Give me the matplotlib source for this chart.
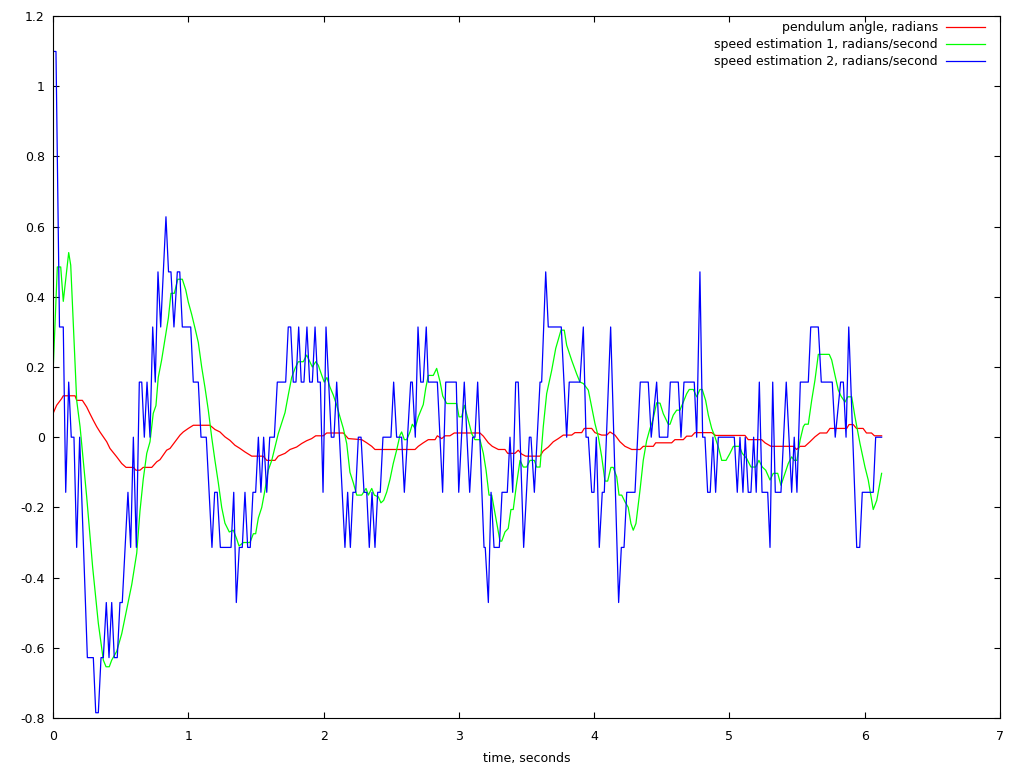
import matplotlib
matplotlib.use("Agg")
import matplotlib.pyplot as plt

# ---------------- data ----------------
angle_t = [0.000, 0.027, 0.064, 0.076, 0.163, 0.175, 0.217, 0.249, 0.273, 0.298, 0.323, 0.347,
           0.372, 0.397, 0.421, 0.471, 0.508, 0.540, 0.594, 0.613, 0.643, 0.667, 0.730, 0.767,
           0.791, 0.815, 0.840, 0.865, 0.902, 0.939, 0.963, 1.000, 1.037, 1.160, 1.197, 1.234,
           1.271, 1.308, 1.345, 1.382, 1.419, 1.469, 1.554, 1.580, 1.641, 1.665, 1.715, 1.752,
           1.801, 1.838, 1.875, 1.912, 1.942, 1.998, 2.023, 2.146, 2.183, 2.282, 2.319, 2.356,
           2.380, 2.676, 2.700, 2.737, 2.774, 2.824, 2.841, 2.873, 2.898, 2.934, 2.966, 3.156,
           3.181, 3.218, 3.247, 3.292, 3.341, 3.361, 3.415, 3.439, 3.464, 3.494, 3.600, 3.624,
           3.661, 3.698, 3.735, 3.772, 3.834, 3.858, 3.908, 3.927, 3.982, 4.006, 4.056, 4.093,
           4.117, 4.154, 4.191, 4.228, 4.278, 4.339, 4.363, 4.437, 4.455, 4.573, 4.597, 4.659,
           4.684, 4.721, 4.745, 4.869, 4.898, 5.115, 5.139, 5.238, 5.263, 5.307, 5.472, 5.497,
           5.522, 5.558, 5.595, 5.632, 5.669, 5.719, 5.743, 5.867, 5.884, 5.915, 5.939, 5.988,
           6.013, 6.050, 6.072, 6.125]
angle_v = [0.067, 0.091, 0.110, 0.118, 0.118, 0.105, 0.105, 0.086, 0.067, 0.048, 0.030, 0.015,
           0.001, -0.013, -0.032, -0.056, -0.075, -0.086, -0.086, -0.094, -0.094, -0.086, -0.086, -0.070,
           -0.064, -0.051, -0.037, -0.032, -0.013, 0.006, 0.015, 0.025, 0.034, 0.034, 0.022, 0.015,
           0.001, -0.009, -0.023, -0.032, -0.042, -0.054, -0.054, -0.066, -0.066, -0.054, -0.046, -0.035,
           -0.028, -0.018, -0.010, -0.004, 0.004, 0.004, 0.012, 0.012, -0.004, -0.007, -0.016, -0.026,
           -0.035, -0.035, -0.026, -0.016, -0.007, -0.007, 0.004, -0.004, 0.004, 0.004, 0.012, 0.012,
           0.003, -0.016, -0.026, -0.035, -0.035, -0.046, -0.046, -0.037, -0.048, -0.054, -0.054, -0.039,
           -0.028, -0.013, -0.004, 0.006, 0.006, 0.013, 0.013, 0.025, 0.025, 0.013, 0.006, 0.006,
           0.015, 0.006, -0.013, -0.026, -0.035, -0.035, -0.026, -0.026, -0.016, -0.016, -0.007, -0.007,
           0.003, 0.003, 0.013, 0.013, 0.005, 0.005, -0.007, -0.007, -0.016, -0.026, -0.026, -0.035,
           -0.026, -0.026, -0.013, 0.001, 0.012, 0.012, 0.025, 0.025, 0.036, 0.036, 0.025, 0.025,
           0.012, 0.012, 0.004, 0.004]

speed1_t = [0.000, 0.032, 0.057, 0.076, 0.116, 0.131, 0.175, 0.200, 0.249, 0.293, 0.335, 0.372,
            0.392, 0.416, 0.434, 0.471, 0.508, 0.545, 0.582, 0.619, 0.643, 0.667, 0.693, 0.717,
            0.741, 0.761, 0.778, 0.803, 0.828, 0.853, 0.872, 0.897, 0.922, 0.956, 0.981, 1.000,
            1.025, 1.050, 1.074, 1.099, 1.124, 1.148, 1.173, 1.197, 1.222, 1.247, 1.271, 1.303,
            1.333, 1.358, 1.375, 1.407, 1.456, 1.481, 1.498, 1.518, 1.543, 1.567, 1.591, 1.617,
            1.641, 1.665, 1.690, 1.715, 1.739, 1.764, 1.789, 1.813, 1.850, 1.875, 1.892, 1.917,
            1.942, 1.961, 1.986, 2.005, 2.025, 2.047, 2.072, 2.097, 2.121, 2.146, 2.171, 2.195,
            2.220, 2.245, 2.282, 2.314, 2.331, 2.356, 2.375, 2.405, 2.424, 2.444, 2.467, 2.491,
            2.515, 2.540, 2.565, 2.577, 2.597, 2.614, 2.639, 2.656, 2.676, 2.700, 2.737, 2.755,
            2.774, 2.811, 2.836, 2.861, 2.881, 2.910, 2.984, 3.001, 3.021, 3.040, 3.070, 3.095,
            3.119, 3.156, 3.181, 3.201, 3.223, 3.243, 3.267, 3.304, 3.317, 3.341, 3.365, 3.385,
            3.402, 3.427, 3.452, 3.476, 3.501, 3.526, 3.558, 3.575, 3.600, 3.624, 3.649, 3.686,
            3.716, 3.755, 3.779, 3.797, 3.834, 3.871, 3.895, 3.920, 3.957, 3.982, 4.006, 4.031,
            4.056, 4.080, 4.100, 4.124, 4.141, 4.167, 4.184, 4.204, 4.228, 4.252, 4.272, 4.289,
            4.309, 4.339, 4.363, 4.388, 4.413, 4.435, 4.462, 4.487, 4.511, 4.548, 4.561, 4.585,
            4.610, 4.634, 4.659, 4.684, 4.703, 4.733, 4.758, 4.782, 4.799, 4.824, 4.844, 4.869,
            4.893, 4.918, 4.943, 4.975, 5.004, 5.029, 5.073, 5.095, 5.128, 5.159, 5.194, 5.218,
            5.243, 5.268, 5.300, 5.324, 5.357, 5.381, 5.411, 5.435, 5.460, 5.479, 5.499, 5.522,
            5.546, 5.558, 5.583, 5.608, 5.632, 5.657, 5.738, 5.756, 5.780, 5.805, 5.825, 5.854,
            5.874, 5.904, 5.928, 5.965, 6.002, 6.026, 6.063, 6.089, 6.125]
speed1_v = [0.180, 0.485, 0.485, 0.387, 0.526, 0.490, 0.105, 0.030, -0.170, -0.370, -0.530, -0.635,
            -0.654, -0.654, -0.635, -0.610, -0.560, -0.490, -0.420, -0.330, -0.210, -0.120, -0.046, -0.013,
            0.068, 0.090, 0.170, 0.220, 0.280, 0.340, 0.410, 0.410, 0.450, 0.450, 0.420, 0.385,
            0.350, 0.310, 0.270, 0.200, 0.140, 0.077, 0.000, -0.066, -0.130, -0.200, -0.245, -0.270,
            -0.265, -0.290, -0.310, -0.300, -0.300, -0.275, -0.275, -0.230, -0.200, -0.150, -0.094, -0.066,
            -0.028, 0.010, 0.040, 0.070, 0.120, 0.170, 0.196, 0.215, 0.215, 0.234, 0.220, 0.200,
            0.215, 0.205, 0.177, 0.157, 0.170, 0.143, 0.120, 0.091, 0.058, 0.025, -0.018, -0.100,
            -0.130, -0.165, -0.165, -0.146, -0.165, -0.146, -0.165, -0.170, -0.187, -0.180, -0.156, -0.120,
            -0.075, -0.037, 0.006, 0.015, -0.007, -0.007, 0.015, 0.037, 0.025, 0.058, 0.093, 0.139,
            0.176, 0.176, 0.196, 0.158, 0.117, 0.096, 0.096, 0.058, 0.058, 0.091, 0.048, 0.010,
            -0.007, -0.007, -0.046, -0.094, -0.165, -0.165, -0.217, -0.296, -0.296, -0.270, -0.260, -0.206,
            -0.206, -0.132, -0.066, -0.085, -0.085, -0.066, -0.066, -0.085, -0.085, 0.030, 0.124, 0.190,
            0.253, 0.305, 0.305, 0.262, 0.219, 0.180, 0.157, 0.153, 0.134, 0.086, 0.039, 0.001,
            -0.056, -0.125, -0.125, -0.086, -0.086, -0.113, -0.165, -0.165, -0.184, -0.200, -0.246, -0.265,
            -0.246, -0.151, -0.066, -0.010, 0.025, 0.050, 0.098, 0.097, 0.067, 0.037, 0.037, 0.063,
            0.077, 0.077, 0.100, 0.124, 0.136, 0.136, 0.115, 0.136, 0.136, 0.105, 0.063, 0.025,
            0.001, -0.028, -0.066, -0.066, -0.046, -0.026, -0.026, -0.046, -0.061, -0.085, -0.085, -0.066,
            -0.085, -0.094, -0.122, -0.103, -0.103, -0.137, -0.103, -0.075, -0.056, -0.066, -0.066, -0.009,
            0.030, 0.037, 0.037, 0.105, 0.162, 0.236, 0.236, 0.220, 0.177, 0.134, 0.117, 0.100,
            0.115, 0.115, 0.058, -0.018, -0.085, -0.122, -0.206, -0.180, -0.103]

speed2_t = [0.000, 0.022, 0.048, 0.076, 0.094, 0.116, 0.135, 0.155, 0.175, 0.197, 0.254, 0.298,
            0.316, 0.335, 0.355, 0.372, 0.394, 0.414, 0.434, 0.453, 0.475, 0.495, 0.512, 0.554,
            0.574, 0.594, 0.616, 0.638, 0.656, 0.675, 0.695, 0.717, 0.737, 0.756, 0.776, 0.796,
            0.835, 0.854, 0.872, 0.894, 0.919, 0.937, 0.956, 1.018, 1.037, 1.074, 1.094, 1.133,
            1.175, 1.195, 1.214, 1.237, 1.316, 1.336, 1.355, 1.377, 1.399, 1.419, 1.439, 1.458,
            1.478, 1.498, 1.518, 1.537, 1.557, 1.580, 1.602, 1.636, 1.658, 1.720, 1.739, 1.757,
            1.776, 1.796, 1.816, 1.835, 1.855, 1.877, 1.897, 1.917, 1.937, 1.957, 1.976, 1.996,
            2.018, 2.057, 2.077, 2.097, 2.158, 2.178, 2.198, 2.217, 2.237, 2.257, 2.277, 2.299,
            2.319, 2.338, 2.358, 2.380, 2.400, 2.419, 2.439, 2.498, 2.518, 2.540, 2.577, 2.597,
            2.644, 2.656, 2.678, 2.698, 2.718, 2.737, 2.759, 2.774, 2.841, 2.880, 2.903, 2.981,
            2.999, 3.040, 3.080, 3.102, 3.119, 3.139, 3.186, 3.195, 3.218, 3.238, 3.260, 3.299,
            3.319, 3.358, 3.378, 3.398, 3.420, 3.439, 3.479, 3.521, 3.533, 3.558, 3.600, 3.612,
            3.642, 3.661, 3.757, 3.797, 3.816, 3.895, 3.920, 3.940, 3.957, 3.982, 3.999, 4.016,
            4.038, 4.060, 4.075, 4.122, 4.181, 4.201, 4.221, 4.241, 4.302, 4.341, 4.400, 4.422,
            4.462, 4.482, 4.544, 4.563, 4.622, 4.642, 4.664, 4.740, 4.758, 4.782, 4.802, 4.819,
            4.839, 4.858, 4.878, 4.898, 4.918, 5.036, 5.058, 5.078, 5.100, 5.117, 5.139, 5.159,
            5.179, 5.198, 5.221, 5.241, 5.283, 5.300, 5.320, 5.339, 5.381, 5.420, 5.460, 5.479,
            5.499, 5.524, 5.583, 5.601, 5.657, 5.679, 5.760, 5.782, 5.822, 5.842, 5.862, 5.882,
            5.941, 5.963, 5.982, 6.063, 6.081, 6.125]
speed2_v = [1.099, 1.099, 0.314, 0.314, -0.157, 0.157, 0.000, 0.000, -0.314, 0.000, -0.628, -0.628,
            -0.785, -0.785, -0.628, -0.628, -0.471, -0.628, -0.471, -0.628, -0.628, -0.471, -0.471, -0.157,
            -0.314, 0.000, -0.314, 0.157, 0.157, 0.000, 0.157, 0.000, 0.314, 0.157, 0.471, 0.314,
            0.628, 0.471, 0.471, 0.314, 0.471, 0.471, 0.314, 0.314, 0.157, 0.157, 0.000, 0.000,
            -0.314, -0.157, -0.157, -0.314, -0.314, -0.157, -0.471, -0.314, -0.314, -0.157, -0.314, -0.314,
            -0.157, -0.157, 0.000, -0.157, 0.000, -0.157, 0.000, 0.000, 0.157, 0.157, 0.314, 0.314,
            0.157, 0.157, 0.314, 0.157, 0.157, 0.314, 0.157, 0.157, 0.314, 0.157, 0.157, -0.157,
            0.314, 0.000, 0.000, 0.157, -0.314, -0.157, -0.314, -0.157, -0.157, 0.000, 0.000, -0.157,
            -0.157, -0.314, -0.157, -0.314, -0.157, -0.157, 0.000, 0.000, 0.157, 0.000, 0.000, -0.157,
            0.157, 0.157, 0.000, 0.314, 0.157, 0.157, 0.314, 0.157, 0.157, -0.157, 0.157, 0.157,
            -0.157, 0.157, -0.157, 0.000, 0.000, 0.157, -0.314, -0.314, -0.471, -0.157, -0.314, -0.314,
            -0.157, -0.157, 0.000, -0.157, 0.157, 0.157, -0.314, 0.000, 0.000, -0.157, 0.157, 0.157,
            0.471, 0.314, 0.314, 0.000, 0.157, 0.157, 0.314, 0.000, 0.000, -0.157, -0.157, 0.000,
            -0.314, -0.157, -0.157, 0.314, -0.471, -0.314, -0.314, -0.157, -0.157, 0.157, 0.157, 0.000,
            0.157, 0.000, 0.000, 0.157, 0.157, 0.000, 0.157, 0.157, 0.000, 0.471, 0.000, 0.000,
            -0.157, -0.157, 0.000, -0.157, 0.000, 0.000, -0.157, 0.000, -0.157, 0.000, -0.157, -0.157,
            0.000, -0.157, 0.157, -0.157, -0.157, -0.314, 0.157, -0.157, -0.157, 0.157, -0.157, 0.000,
            -0.157, 0.157, 0.157, 0.314, 0.314, 0.157, 0.157, 0.000, 0.157, 0.157, 0.000, 0.314,
            -0.314, -0.314, -0.157, -0.157, 0.000, 0.000]

series_labels = ["pendulum angle, radians",
                 "speed estimation 1, radians/second",
                 "speed estimation 2, radians/second"]
series_colors = ["#ff0000", "#00ff00", "#0000ff"]

x_ticks = [0, 1, 2, 3, 4, 5, 6, 7]
y_ticks = [-0.8, -0.6, -0.4, -0.2, 0.0, 0.2, 0.4, 0.6, 0.8, 1.0, 1.2]
y_tick_labels = ["-0.8", "-0.6", "-0.4", "-0.2", "0", "0.2", "0.4", "0.6", "0.8", "1", "1.2"]
x_label = "time, seconds"

# ---------------- figure ----------------
W, H = 1024, 768
fig = plt.figure(figsize=(W / 100, H / 100), dpi=100)
L, R, T, B = 53, 1000, 16, 718
ax = fig.add_axes([L / W, 1 - B / H, (R - L) / W, (B - T) / H])

for t, v, lab, col in zip([angle_t, speed1_t, speed2_t],
                          [angle_v, speed1_v, speed2_v],
                          series_labels, series_colors):
    ax.plot(t, v, color=col, lw=0.9, label=lab)

ax.set_xlim(0, 7)
ax.set_ylim(-0.8, 1.2)
ax.set_xticks(x_ticks)
ax.set_xticklabels([str(v) for v in x_ticks])
ax.set_yticks(y_ticks)
ax.set_yticklabels(y_tick_labels)
ax.tick_params(direction="in", length=4.5, width=0.8, top=True, right=True,
               labelsize=9, pad=6, colors="black")
ax.tick_params(axis="x", pad=9)
for s in ax.spines.values():
    s.set_linewidth(0.8)
    s.set_color("black")
ax.set_xlabel(x_label, fontsize=9, labelpad=6)

leg = ax.legend(loc="upper right", bbox_to_anchor=((985 - L) / (R - L), 1 - (21 - T) / (B - T)),
                markerfirst=False, frameon=False, fontsize=9, borderpad=0, borderaxespad=0,
                handlelength=3.1, handletextpad=0.65, labelspacing=0.32)

fig.savefig("out.png", dpi=100)
